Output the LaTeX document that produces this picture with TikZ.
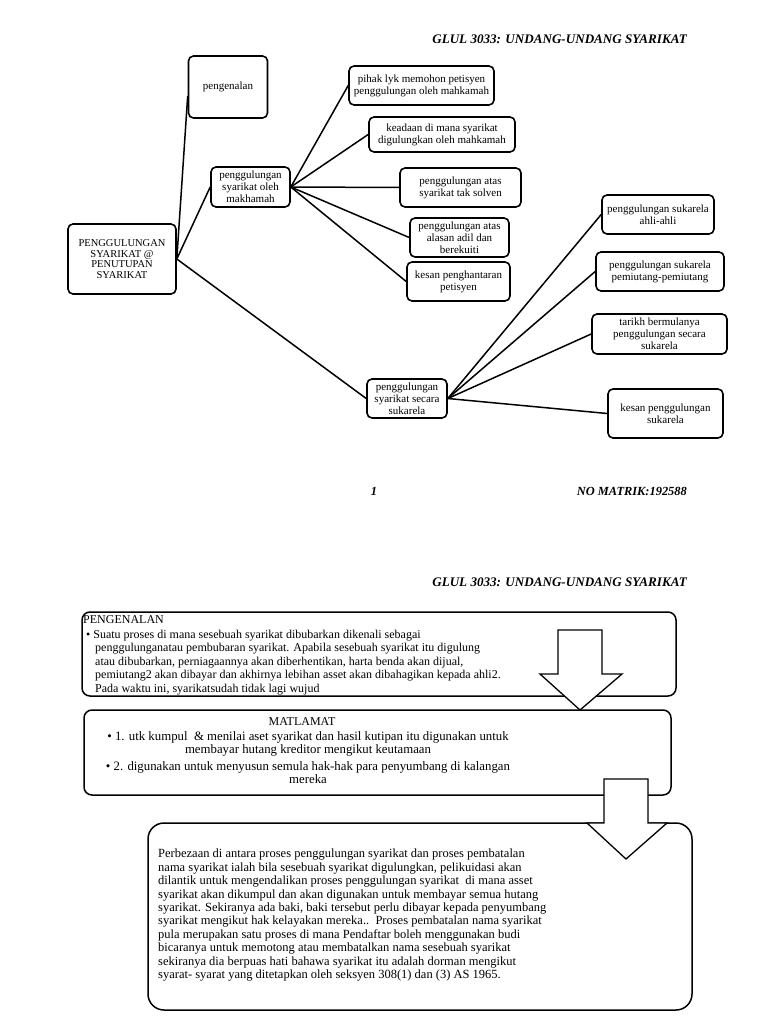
\documentclass[tikz,border=0pt]{standalone}
\usepackage{fontspec}
\setmainfont{Liberation Serif}
\begin{document}
\begin{tikzpicture}[x=1pt,y=-1pt,
  box/.style={draw, line width=1.6pt, rounded corners=5pt, align=center, inner sep=1pt,
    font=\fontsize{11}{12}\selectfont},
  link/.style={line width=1.5pt},
  hdr/.style={font=\fontsize{13.1}{14}\selectfont\bfseries\itshape, inner sep=0pt},
  panel/.style={draw, line width=1.5pt, rounded corners=8pt},
  bigarrow/.style={draw, line width=1.3pt, fill=white, line join=miter},
  body/.style={inner sep=0pt, font=\fontsize{12}{13.4}\selectfont}
]
\useasboundingbox (0,0) rectangle (768,1024);

% ---------- page 1 header ----------
\node[hdr, anchor=east] (h1) at (687,39) {GLUL 3033: UNDANG-UNDANG SYARIKAT};

% ---------- tree ----------
\node[box, minimum width=108pt, minimum height=70pt, font=\fontsize{10.5}{10.5}\selectfont] (root) at (122,259)
  {PENGGULUNGAN\\SYARIKAT @\\PENUTUPAN\\SYARIKAT};
\node[box, minimum width=79pt, minimum height=62pt] (peng) at (228,87) {pengenalan};
\node[box, minimum width=79pt, minimum height=40pt] (mah) at (250.5,187) {penggulungan\\syarikat oleh\\makhamah};
\node[box, minimum width=80pt, minimum height=39pt] (suk) at (407,398.5) {penggulungan\\syarikat secara\\sukarela};

\node[box, minimum width=145pt, minimum height=39pt] (a1) at (421.5,85.5) {pihak lyk memohon petisyen\\penggulungan oleh mahkamah};
\node[box, minimum width=146pt, minimum height=35pt] (a2) at (442,134.5) {keadaan di mana syarikat\\digulungkan oleh mahkamah};
\node[box, minimum width=121pt, minimum height=39pt] (a3) at (460.5,187.5) {penggulungan atas\\syarikat tak solven};
\node[box, minimum width=99pt, minimum height=39pt] (a4) at (459.5,237.5) {penggulungan atas\\alasan adil dan\\berekuiti};
\node[box, minimum width=103pt, minimum height=39pt] (a5) at (458.5,281.5) {kesan penghantaran\\petisyen};

\node[box, minimum width=112pt, minimum height=39pt] (b1) at (658,214.5) {penggulungan sukarela\\ahli-ahli};
\node[box, minimum width=128pt, minimum height=39pt] (b2) at (660,271.5) {penggulungan sukarela\\pemiutang-pemiutang};
\node[box, minimum width=135pt, minimum height=40pt] (b3) at (659.5,334) {tarikh bermulanya\\penggulungan secara\\sukarela};
\node[box, minimum width=115pt, minimum height=49pt] (b4) at (665.5,413.5) {kesan penggulungan\\sukarela};

\draw[link] (root.east) -- ([yshift=-9pt]peng.west);
\draw[link] (root.east) -- (mah.west);
\draw[link] (root.east) -- (suk.west);
\foreach \t in {a1,a2,a3,a4,a5} \draw[link] (mah.east) -- (\t.west);
\foreach \t in {b1,b2,b3,b4} \draw[link] (suk.east) -- (\t.west);

% ---------- page footer ----------
\node[hdr, anchor=base, font=\fontsize{12.4}{14}\selectfont\bfseries\itshape] (pg) at (374,495) {1};
\node[hdr, anchor=base east, font=\fontsize{12.4}{14}\selectfont\bfseries\itshape] (mat) at (687,495) {NO MATRIK:192588};

% ---------- page 2 header ----------
\node[hdr, anchor=east] (h2) at (687,582) {GLUL 3033: UNDANG-UNDANG SYARIKAT};

% ---------- panels ----------
\draw[panel] (82,612) rectangle (676,696);
\node[body, anchor=base west] (pt) at (83,623) {PENGENALAN};
\node[body, anchor=north west, align=left] (pb) at (86,630)
  {\textbullet\ Suatu proses di mana sesebuah syarikat dibubarkan dikenali sebagai\\
   \hspace*{9pt}penggulunganatau pembubaran syarikat. Apabila sesebuah syarikat itu digulung\\
   \hspace*{9pt}atau dibubarkan, perniagaannya akan diberhentikan, harta benda akan dijual,\\
   \hspace*{9pt}pemiutang2 akan dibayar dan akhirnya lebihan asset akan dibahagikan kepada ahli2.\\
   \hspace*{9pt}Pada waktu ini, syarikatsudah tidak lagi wujud};

\draw[panel] (84,710) rectangle (671,795);
\node[body, anchor=base] (mt) at (302,725) {MATLAMAT};
\node[body, anchor=north, align=center, font=\fontsize{12.8}{13.4}\selectfont] (m1) at (308,731)
  {\textbullet\ 1. utk kumpul\ \ \& menilai aset syarikat dan hasil kutipan itu digunakan untuk\\
   membayar hutang kreditor mengikut keutamaan};
\node[body, anchor=north, align=center, font=\fontsize{12.8}{13.4}\selectfont] (m2) at (308,761)
  {\textbullet\ 2. digunakan untuk menyusun semula hak-hak para penyumbang di kalangan\\
   mereka};

\draw[panel, rounded corners=16pt] (148,823) rectangle (692,1010);
\node[body, anchor=north west, align=left, font=\fontsize{12.5}{13.4}\selectfont] (tb) at (158,849)
  {Perbezaan di antara proses penggulungan syarikat dan proses pembatalan\\
   nama syarikat ialah bila sesebuah syarikat digulungkan, pelikuidasi akan\\
   dilantik untuk mengendalikan proses penggulungan syarikat\ \ di mana asset\\
   syarikat akan dikumpul dan akan digunakan untuk membayar semua hutang\\
   syarikat. Sekiranya ada baki, baki tersebut perlu dibayar kepada penyumbang\\
   syarikat mengikut hak kelayakan mereka..\ \ Proses pembatalan nama syarikat\\
   pula merupakan satu proses di mana Pendaftar boleh menggunakan budi\\
   bicaranya untuk memotong atau membatalkan nama sesebuah syarikat\\
   sekiranya dia berpuas hati bahawa syarikat itu adalah dorman mengikut\\
   syarat- syarat yang ditetapkan oleh seksyen 308(1) dan (3) AS 1965.};

% ---------- block arrows ----------
\draw[bigarrow] (558,630) -- (602,630) -- (602,674) -- (622,674) -- (580,710) -- (540,674) -- (558,674) -- cycle;
\draw[bigarrow] (604,779) -- (648,779) -- (648,823) -- (667,823) -- (626,859) -- (587,823) -- (604,823) -- cycle;
\end{tikzpicture}
\end{document}
